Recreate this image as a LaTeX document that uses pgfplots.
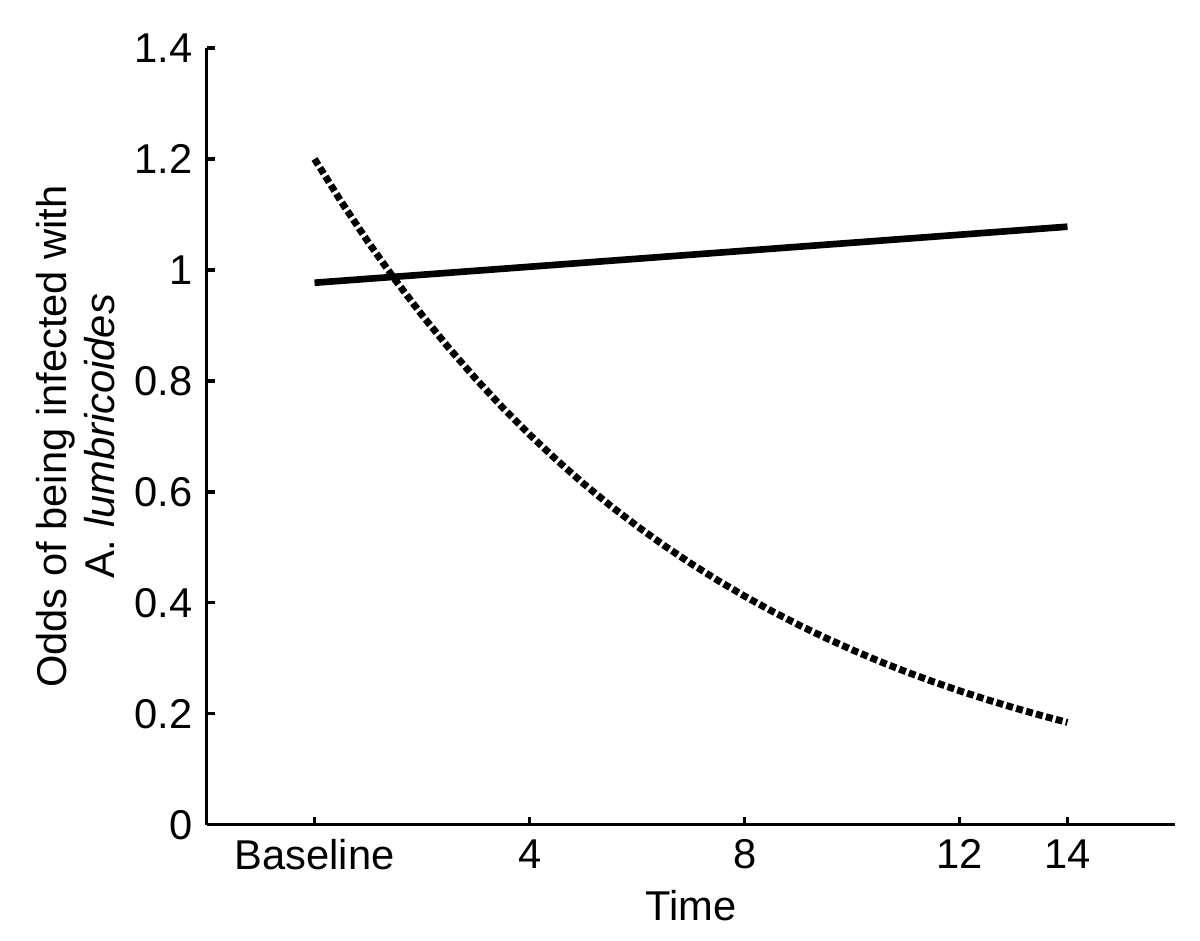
\documentclass[border=0pt]{standalone}
\usepackage{pgfplots}
\pgfplotsset{compat=1.18}
\usepackage{fontspec}
\setmainfont{Liberation Sans}
\begin{document}
\fontsize{15}{18}\selectfont
\begin{tikzpicture}
\begin{axis}[
  scale only axis, width=348.5pt, height=279.7pt,
  xmin=-2, xmax=16, ymin=0, ymax=1.4,
  axis lines*=left,
  axis line style={line width=1.1pt, black},
  tick align=inside, major tick length=3pt,
  tick style={line width=1.1pt, black},
  xtick={0,4,8,12,14}, xticklabels={Baseline,4,8,12,14},
  ytick={0,0.2,0.4,0.6,0.8,1,1.2,1.4},
  yticklabels={0,0.2,0.4,0.6,0.8,1,1.2,1.4},
  /pgf/number format/assume math mode=true,
  tick label style={font=\fontsize{15}{18}\selectfont},
  label style={font=\fontsize{15}{17}\selectfont},
  xlabel={Time},
  xlabel shift=-3pt,
  ylabel={Odds of being infected with\\A. \textit{lumbricoides}},
  ylabel style={align=center},
  ylabel shift=-3pt,
  clip=false,
]
\addplot[black, line width=2.4pt] coordinates {(0,0.977) (14,1.078)};
\addplot[black, line width=2.5pt, dash pattern=on 2.5pt off 1.2pt] coordinates {
(0,1.2) (0.5,1.1225) (1,1.0499) (1.5,0.9821) (2,0.9186) (2.5,0.8592) (3,0.8037) (3.5,0.7518)
(4,0.7032) (4.5,0.6578) (5,0.6152) (5.5,0.5754) (6,0.5383) (6.5,0.5035) (7,0.4710) (7.5,0.4406)
(8,0.4121) (8.5,0.3855) (9,0.3605) (9.5,0.3372) (10,0.3154) (10.5,0.2950) (11,0.2760) (11.5,0.2582)
(12,0.2415) (12.5,0.2259) (13,0.2113) (13.5,0.1976) (14,0.1848)};
\path (rel axis cs:-0.2138,-0.1493) rectangle (rel axis cs:1.0258,1.0618);
\end{axis}
\end{tikzpicture}
\end{document}
